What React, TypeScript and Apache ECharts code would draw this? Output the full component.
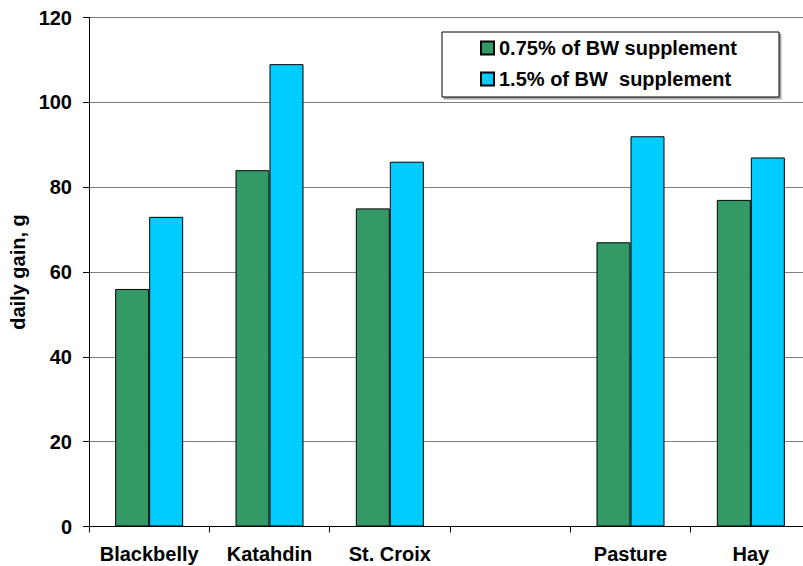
import React, { useEffect, useRef } from "react";
import * as echarts from "echarts";

const categories = ["Blackbelly", "Katahdin", "St. Croix", "", "Pasture", "Hay"];
const seriesNames = ["0.75% of BW supplement", "1.5% of BW  supplement"];
const lowSupplement = [56, 84, 75, null, 67, 77];
const highSupplement = [73, 109, 86, null, 92, 87];
const yTicks = { min: 0, max: 120, interval: 20 };

const FONT = "'Liberation Sans', Arial, Helvetica, sans-serif";

export default function App() {
  const ref = useRef<HTMLDivElement>(null);
  useEffect(() => {
    if (!ref.current) return;
    const chart = echarts.init(ref.current, null, { renderer: "svg" });
    chart.setOption({
      animation: false,
      backgroundColor: "#fff",
      textStyle: { fontFamily: FONT, fontWeight: 700 },
      grid: { left: 89, top: 17.5, width: 722, height: 509, outerBoundsMode: "none", containLabel: false },
      graphic: [
        {
          type: "rect",
          z: 1,
          shape: { x: 442, y: 32, width: 337, height: 65 },
          style: { fill: "#fff", stroke: "#000", lineWidth: 1, shadowBlur: 0, shadowOffsetX: 2, shadowOffsetY: 2, shadowColor: "rgba(0,0,0,0.35)" },
        },
      ],
      legend: {
        orient: "vertical",
        left: 480,
        top: 38,
        z: 5,
        itemWidth: 13,
        itemHeight: 13,
        itemGap: 11,
        icon: "rect",
        padding: 0,
        textStyle: { fontFamily: FONT, fontWeight: 700, fontSize: 20, color: "#000", lineHeight: 20 },
        data: seriesNames,
      },
      xAxis: {
        type: "category",
        data: categories,
        boundaryGap: true,
        axisLine: { lineStyle: { color: "#000", width: 1 } },
        axisTick: { show: true, length: 6, lineStyle: { color: "#000" } },
        axisLabel: { fontFamily: FONT, fontWeight: 700, fontSize: 20, color: "#000", margin: 17, interval: 0 },
      },
      yAxis: {
        type: "value",
        min: yTicks.min,
        max: yTicks.max,
        interval: yTicks.interval,
        name: "daily gain, g",
        nameLocation: "middle",
        nameGap: 61,
        nameTextStyle: { fontFamily: FONT, fontWeight: 700, fontSize: 20, color: "#000" },
        axisLine: { show: true, lineStyle: { color: "#000", width: 1 } },
        axisTick: { show: true, length: 6, lineStyle: { color: "#000" } },
        axisLabel: { fontFamily: FONT, fontWeight: 700, fontSize: 20, color: "#000", margin: 17 },
        splitLine: { show: true, lineStyle: { color: "#808080", width: 1 } },
      },
      series: [
        {
          name: seriesNames[0],
          type: "bar",
          data: lowSupplement,
          barWidth: 34,
          barGap: "0%",
          itemStyle: { color: "#339966", borderColor: "#000", borderWidth: 1 },
        },
        {
          name: seriesNames[1],
          type: "bar",
          data: highSupplement,
          barWidth: 34,
          barGap: "0%",
          itemStyle: { color: "#00CCFF", borderColor: "#000", borderWidth: 1 },
        },
      ],
    });
    return () => chart.dispose();
  }, []);
  return (
    <div
      ref={ref}
      style={{ position: "fixed", left: 0, top: 0, width: 803, height: 566 }}
    />
  );
}
